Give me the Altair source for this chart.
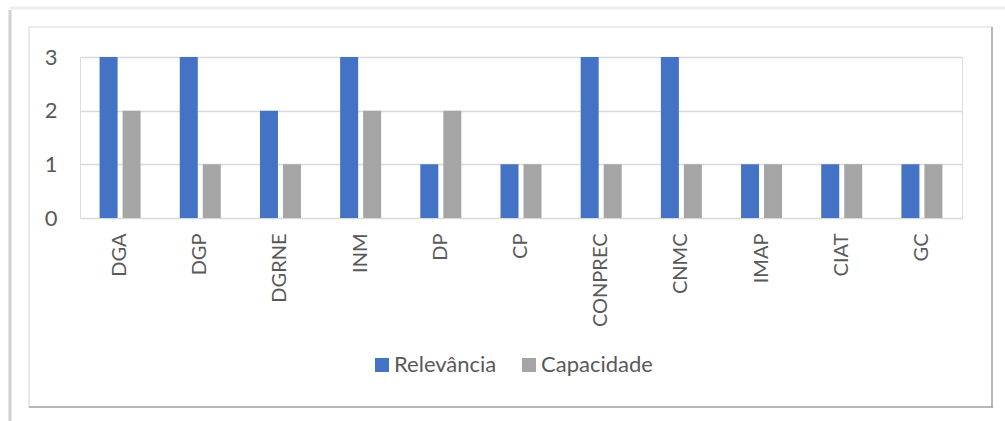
import altair as alt
import pandas as pd

# Chart data
categories = ["DGA", "DGP", "DGRNE", "INM", "DP", "CP", "CONPREC", "CNMC", "IMAP", "CIAT", "GC"]
relevancia = [3, 3, 2, 3, 1, 1, 3, 3, 1, 1, 1]
capacidade = [2, 1, 1, 2, 2, 1, 1, 1, 1, 1, 1]
series_names = ["Relevância", "Capacidade"]
series_colors = ["#4472C4", "#A5A5A5"]
y_ticks = [0, 1, 2, 3]

rows = []
for i, cat in enumerate(categories):
    rows.append({"cat": cat, "serie": series_names[0], "valor": relevancia[i]})
    rows.append({"cat": cat, "serie": series_names[1], "valor": capacidade[i]})
df = pd.DataFrame(rows)

FONT = "Lato"
TEXT_COLOR = "#595959"
W, H = 882, 161
PAD_L, PAD_T = 80, 57

bars = alt.Chart(df).mark_bar().encode(
    x=alt.X(
        "cat:N",
        sort=categories,
        scale=alt.Scale(paddingInner=0.4887, paddingOuter=0.2443),
        axis=alt.Axis(
            title=None, labelAngle=270, labelPadding=15, ticks=False, domain=False,
            labelFont=FONT, labelFontSize=20, labelColor=TEXT_COLOR,
        ),
    ),
    xOffset=alt.XOffset(
        "serie:N", sort=series_names,
        scale=alt.Scale(paddingInner=0.217, paddingOuter=0),
    ),
    y=alt.Y(
        "valor:Q",
        scale=alt.Scale(domain=[0, 3], nice=False),
        axis=alt.Axis(
            title=None, values=y_ticks, format="d", ticks=False, domain=False,
            labelPadding=23, labelFont=FONT, labelFontSize=22, labelColor=TEXT_COLOR,
            gridColor="#D9D9D9", gridWidth=1.3,
        ),
    ),
    color=alt.Color(
        "serie:N",
        sort=series_names,
        scale=alt.Scale(domain=series_names, range=series_colors),
        legend=alt.Legend(
            title=None, orient="none", direction="horizontal", columns=2,
            legendX=291, legendY=297,
            symbolType="square", symbolSize=196, symbolStrokeWidth=0,
            labelFont=FONT, labelFontSize=22, labelColor=TEXT_COLOR,
            labelOffset=1, columnPadding=21,
        ),
    ),
)

# Chart frame drawn around the whole figure
one = pd.DataFrame({"k": [0]})
frame = alt.Chart(one).mark_rect(fill=None, stroke="#D9D9D9", strokeWidth=1.2).encode(
    x=alt.value(-51), x2=alt.value(912), y=alt.value(-30), y2=alt.value(350)
)
frame_right = alt.Chart(one).mark_rule(color="#A6A6A6", strokeWidth=1.5).encode(
    x=alt.value(912), y=alt.value(-30), y2=alt.value(351)
)
frame_bottom = alt.Chart(one).mark_rule(color="#A6A6A6", strokeWidth=1.5).encode(
    y=alt.value(350), x=alt.value(-51), x2=alt.value(913)
)
outer_left = alt.Chart(one).mark_rule(color="#C4C4C4", strokeWidth=3, opacity=0.8).encode(
    x=alt.value(-70), y=alt.value(-47), y2=alt.value(364)
)
outer_top = alt.Chart(one).mark_rule(color="#EDEDED", strokeWidth=3).encode(
    y=alt.value(-49), x=alt.value(-70), x2=alt.value(925)
)

chart = alt.layer(outer_top, outer_left, frame, frame_right, frame_bottom, bars).properties(
    width=W, height=H,
    autosize=alt.AutoSizeParams(type="none"),
    padding={"left": PAD_L, "top": PAD_T, "right": 1005 - PAD_L - W, "bottom": 421 - PAD_T - H},
).configure_view(stroke=None).configure(background="white")

chart.save("out.html", embed_options={"renderer": "svg", "actions": False})
